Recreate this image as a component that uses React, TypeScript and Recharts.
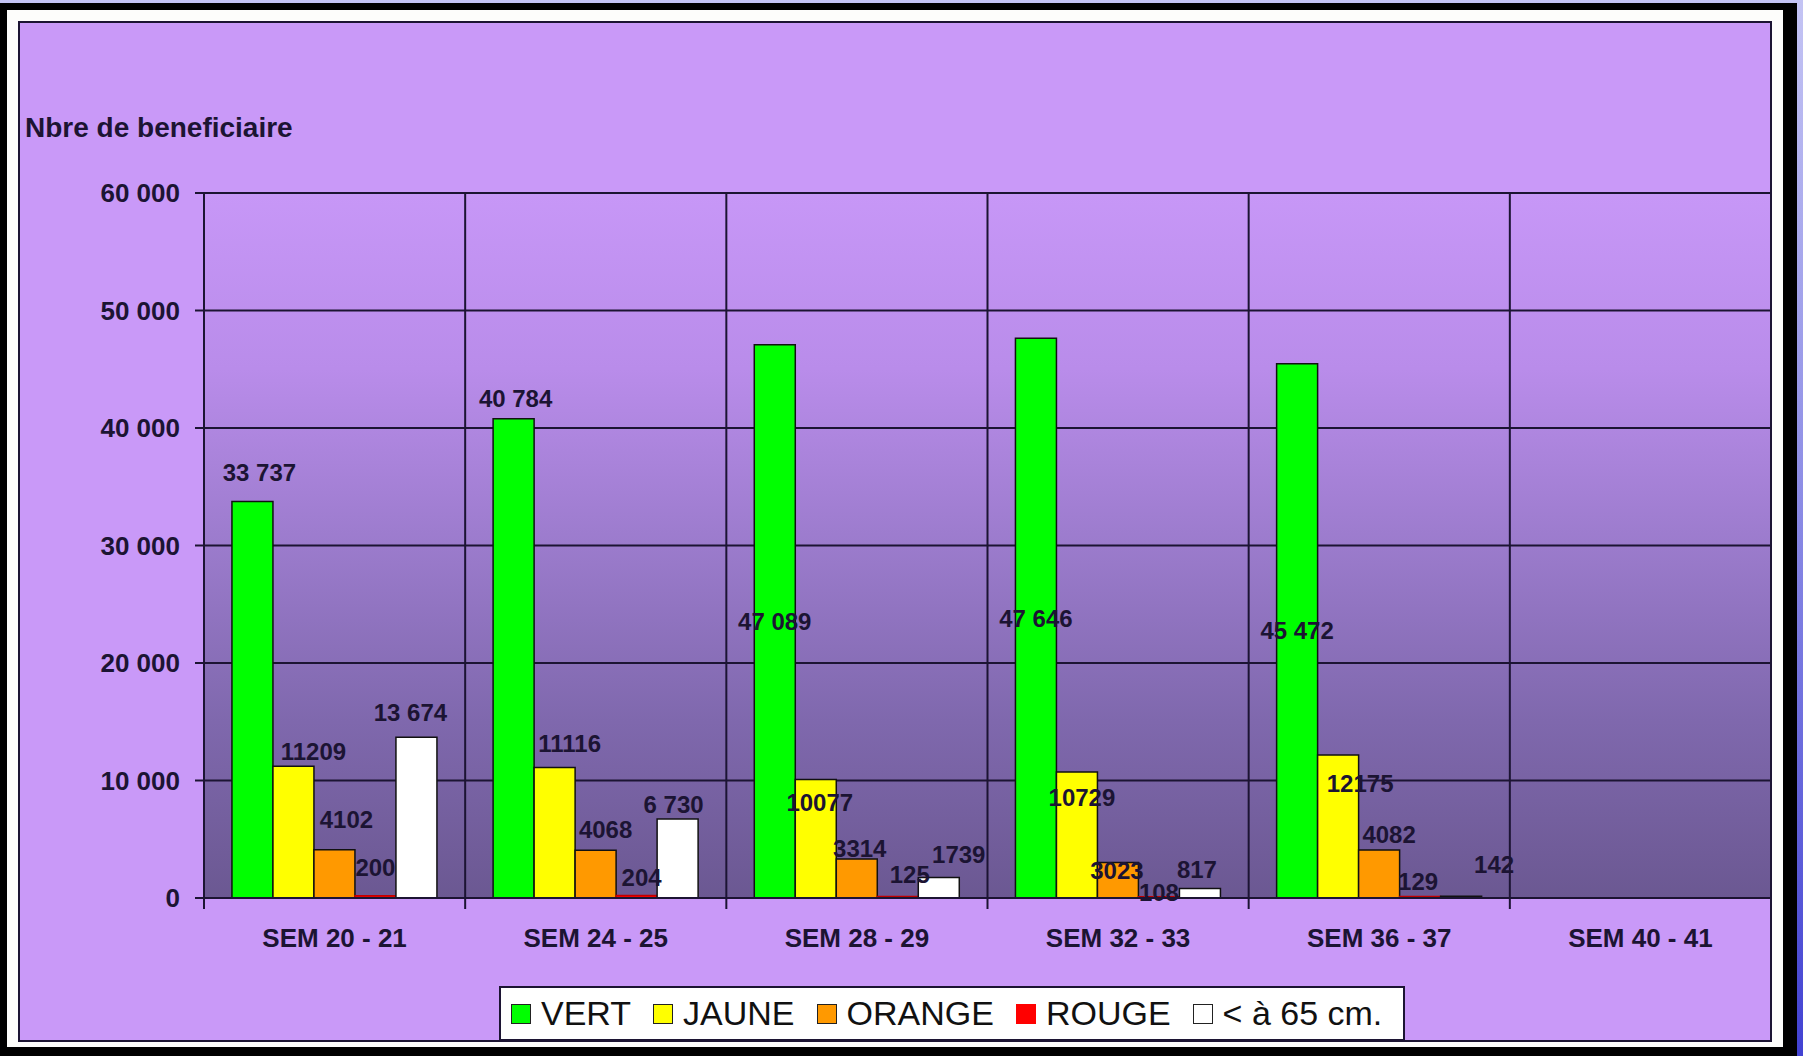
import React from "react"
import {
  BarChart,
  Bar,
  XAxis,
  YAxis,
  CartesianGrid,
  Legend,
  LabelList
} from "recharts"

// weekly counts of beneficiaries by MUAC colour band
const weeks = ["SEM 20 - 21", "SEM 24 - 25", "SEM 28 - 29", "SEM 32 - 33", "SEM 36 - 37", "SEM 40 - 41"]
const vert = [33737, 40784, 47089, 47646, 45472, null]
const jaune = [11209, 11116, 10077, 10729, 12175, null]
const orange = [4102, 4068, 3314, 3023, 4082, null]
const rouge = [200, 204, 125, 108, 129, null]
const moins65 = [13674, 6730, 1739, 817, 142, null]
const yTicks = [0, 10000, 20000, 30000, 40000, 50000, 60000]

const data = weeks.map((week, i) => ({
  week,
  vert: vert[i],
  jaune: jaune[i],
  orange: orange[i],
  rouge: rouge[i],
  moins65: moins65[i]
}))

const W = 1803
const H = 1056
const PLOT_LEFT = 204
const PLOT_RIGHT = 1771
const PLOT_TOP = 193
const PLOT_BOTTOM = 898
const Y_AXIS_W = 120
const X_AXIS_H = 40
const PLOT_W = PLOT_RIGHT - PLOT_LEFT
const BAND = PLOT_W / weeks.length

const INK = "#1c1433"
const FONT = '"Liberation Sans", Arial, Helvetica, sans-serif'

const spaced = (v: number) => String(v).replace(/\B(?=(\d{3})+(?!\d))/g, " ")
const plain = (v: number) => String(v)

// where each value label sits: [dx from bar centre, dy from bar top]; null = middle of the bar
const labelShift: Record<string, ([number, number] | null)[]> = {
  vert: [[7, -29], [2, -20], null, null, null],
  jaune: [[20, -15], [15, -24], [4, 23], [5, 26], [22, 29]],
  orange: [[12, -30], [10, -21], [3, -11], [-1, 8], [10, -16]],
  rouge: [[0, -28], [5, -18], [12, -22], [0, -4], [-2, -15]],
  moins65: [[-6, -25], [-4, -14], [20, -23], [-3, -19], [33, -32]]
}

const labelFormat: Record<string, (v: number) => string> = {
  vert: spaced,
  jaune: plain,
  orange: plain,
  rouge: plain,
  moins65: (v) => (v >= 2000 ? spaced(v) : plain(v))
}

const series = [
  { key: "vert", name: "VERT", fill: "#00ff00", stroke: "#111" },
  { key: "jaune", name: "JAUNE", fill: "#ffff00", stroke: "#111" },
  { key: "orange", name: "ORANGE", fill: "#ff9900", stroke: "#111" },
  { key: "rouge", name: "ROUGE", fill: "#ff0000", stroke: "#c00000" },
  { key: "moins65", name: "< à 65 cm.", fill: "#ffffff", stroke: "#111" }
]

function makeLabel(key: string) {
  return (props: any) => {
    const { value, index } = props
    if (value === null || value === undefined) return null
    const vb = props.viewBox && props.viewBox.width !== undefined ? props.viewBox : props
    const x = Number(vb.x)
    const y = Number(vb.y)
    const width = Number(vb.width)
    const height = Number(vb.height)
    const shift = labelShift[key][index]
    const cx = x + width / 2 + (shift ? shift[0] : 0)
    const cy = shift ? y + shift[1] : y + height / 2
    return (
      <text
        x={cx}
        y={cy}
        textAnchor="middle"
        dominantBaseline="central"
        fontFamily={FONT}
        fontWeight={700}
        fontSize={24}
        fill={INK}
      >
        {labelFormat[key](Number(value))}
      </text>
    )
  }
}

function WeekTick({ x, y, payload, index }: any) {
  const left = x - BAND / 2
  const right = x + BAND / 2
  return (
    <g>
      <line x1={left} x2={left} y1={y} y2={y + 11} stroke={INK} strokeWidth={2} />
      {index === weeks.length - 1 && (
        <line x1={right} x2={right} y1={y} y2={y + 11} stroke={INK} strokeWidth={2} />
      )}
      <text
        x={x}
        y={y + 40}
        textAnchor="middle"
        dominantBaseline="central"
        fontFamily={FONT}
        fontWeight={700}
        fontSize={26}
        fill={INK}
      >
        {payload.value}
      </text>
    </g>
  )
}

// legend keeps the series order (VERT first), not the alphabetical one
function LegendBox() {
  return (
    <div
      style={{
        boxSizing: "border-box",
        width: 906,
        height: 55,
        background: "#ffffff",
        border: `2px solid ${INK}`,
        display: "flex",
        alignItems: "center",
        paddingLeft: 10,
        fontFamily: FONT,
        fontSize: 34,
        color: "#111111",
        whiteSpace: "nowrap"
      }}
    >
      {series.map((s) => (
        <span key={s.key} style={{ display: "flex", alignItems: "center", marginRight: 22 }}>
          <span
            style={{
              display: "inline-block",
              boxSizing: "border-box",
              width: 20,
              height: 20,
              background: s.fill,
              border: s.key === "rouge" ? "none" : "1.5px solid #222",
              marginRight: 10
            }}
          />
          {s.name}
        </span>
      ))}
    </div>
  )
}

export default function App() {
  const verticalPoints = weeks.map((_, i) => PLOT_LEFT + i * BAND).concat(PLOT_RIGHT)

  return (
    <div
      style={{
        position: "absolute",
        left: 0,
        top: 0,
        width: W,
        height: H,
        overflow: "hidden",
        background: "linear-gradient(180deg, #c4c4f4 0%, #8f8fe6 45%, #4242d2 100%)"
      }}
    >
      {/* black slide frame, white mat, lavender chart area */}
      <div style={{ position: "absolute", left: 0, top: 3, width: 1797, height: H - 3, background: "#000" }} />
      <div style={{ position: "absolute", left: 7, top: 10, width: 1776, height: 1037, background: "#fdfdfb" }} />
      <div
        style={{
          position: "absolute",
          left: 18,
          top: 21,
          width: 1754,
          height: 1021,
          boxSizing: "border-box",
          background: "#c999f8",
          border: `2px solid ${INK}`
        }}
      />
      <div
        style={{
          position: "absolute",
          left: 25,
          top: 114,
          fontFamily: FONT,
          fontWeight: 700,
          fontSize: 28,
          lineHeight: "28px",
          color: INK,
          whiteSpace: "nowrap"
        }}
      >
        Nbre de beneficiaire
      </div>

      <div style={{ position: "absolute", left: 0, top: 0 }}>
        <BarChart
          width={W}
          height={H}
          data={data}
          margin={{
            top: PLOT_TOP,
            right: W - PLOT_RIGHT,
            bottom: H - PLOT_BOTTOM - X_AXIS_H,
            left: PLOT_LEFT - Y_AXIS_W
          }}
          barCategoryGap="10.7%"
          barGap={0}
        >
          <defs>
            <linearGradient id="plotBg" x1="0" y1="0" x2="0" y2="1">
              <stop offset="0%" stopColor="#c797f7" />
              <stop offset="25%" stopColor="#b98cea" />
              <stop offset="50%" stopColor="#9b7bcc" />
              <stop offset="75%" stopColor="#7f68ad" />
              <stop offset="100%" stopColor="#6b5892" />
            </linearGradient>
          </defs>
          <CartesianGrid
            fill="url(#plotBg)"
            fillOpacity={1}
            stroke={INK}
            strokeWidth={2}
            verticalPoints={verticalPoints}
          />
          <XAxis
            dataKey="week"
            interval={0}
            height={X_AXIS_H}
            tickLine={false}
            tickSize={0}
            tickMargin={0}
            axisLine={{ stroke: INK, strokeWidth: 2 }}
            tick={<WeekTick />}
          />
          <YAxis
            width={Y_AXIS_W}
            domain={[0, 60000]}
            ticks={yTicks}
            interval={0}
            tickSize={9}
            tickMargin={15}
            tickFormatter={(v: number) => spaced(v)}
            axisLine={{ stroke: INK, strokeWidth: 2 }}
            tickLine={{ stroke: INK, strokeWidth: 2 }}
            tick={{ fill: INK, fontSize: 26, fontWeight: 700, fontFamily: FONT }}
          />
          <Legend
            layout="horizontal"
            verticalAlign="middle"
            align="center"
            wrapperStyle={{ left: 499, top: 986, width: 906, height: 55 }}
            content={<LegendBox />}
          />
          {series.map((s) => (
            <Bar
              key={s.key}
              dataKey={s.key}
              name={s.name}
              fill={s.fill}
              stroke={s.stroke}
              strokeWidth={1.5}
              isAnimationActive={false}
            >
              <LabelList dataKey={s.key} content={makeLabel(s.key)} />
            </Bar>
          ))}
        </BarChart>
      </div>
    </div>
  )
}
